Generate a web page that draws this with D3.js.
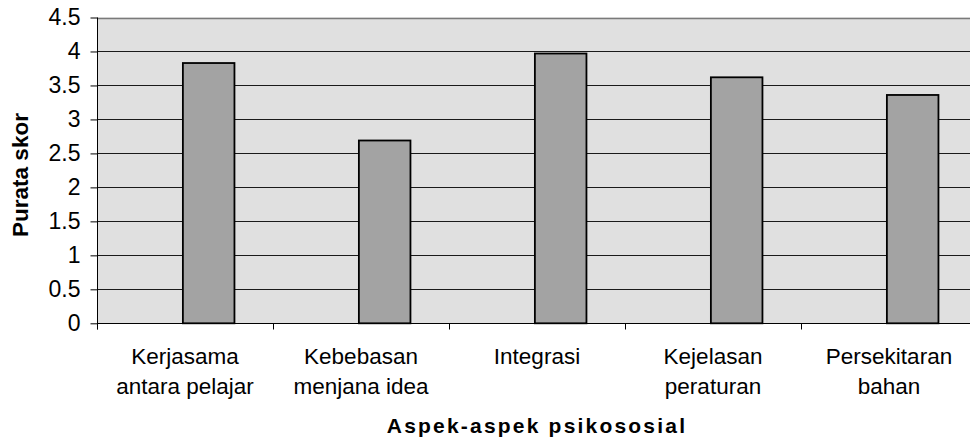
<!DOCTYPE html>
<html>
<head>
<meta charset="utf-8">
<script src="https://cdn.jsdelivr.net/npm/d3@7"></script>
<style>
  body { margin: 0; background: #fff; }
  svg { display: block; font-family: "Liberation Sans", Arial, sans-serif; }
</style>
</head>
<body>
<svg id="canvas" width="970" height="441"></svg>
<script>
// chart data
let categories = [
  ['Kerjasama', 'antara pelajar'],
  ['Kebebasan', 'menjana idea'],
  ['Integrasi'],
  ['Kejelasan', 'peraturan'],
  ['Persekitaran', 'bahan']
];
let scores = [3.83, 2.69, 3.97, 3.62, 3.36];
let yTicks = [0, 0.5, 1, 1.5, 2, 2.5, 3, 3.5, 4, 4.5];
let yTitle = 'Purata skor';
let xTitle = 'Aspek-aspek psikososial';

let canvas = d3.select('#canvas');

let plotLeft = 97, plotRight = 977, plotTop = 17.5, plotBottom = 323.3;

let x = d3.scaleBand()
  .domain(d3.range(categories.length))
  .range([plotLeft, plotRight])
  .padding(0);

let y = d3.scaleLinear()
  .domain([0, 4.5])
  .range([plotBottom, plotTop]);

// plot background
canvas.append('rect')
  .attr('x', plotLeft)
  .attr('y', plotTop)
  .attr('width', plotRight - plotLeft)
  .attr('height', plotBottom - plotTop)
  .attr('fill', '#e0e0e0');

// gridlines
canvas.append('g')
  .selectAll('line')
  .data(yTicks.filter((d) => d > 0))
  .enter()
  .append('line')
  .attr('x1', plotLeft)
  .attr('x2', plotRight)
  .attr('y1', (d) => Math.round(y(d)) + 0.5)
  .attr('y2', (d) => Math.round(y(d)) + 0.5)
  .attr('stroke', (d) => (d === 4.5 ? '#7a7a7a' : '#1a1a1a'))
  .attr('stroke-width', (d) => (d === 4.5 ? 1.5 : 1.2));

// bars (sit off-centre inside each category, like the source)
let bw = x.bandwidth();
canvas.append('g')
  .selectAll('rect')
  .data(scores)
  .enter()
  .append('rect')
  .attr('x', (d, i) => x(i) + bw * 0.488)
  .attr('y', (d) => y(d))
  .attr('width', bw * 0.293)
  .attr('height', (d) => y(0) - y(d))
  .attr('fill', '#a3a3a3')
  .attr('stroke', '#000')
  .attr('stroke-width', 1.8);

// y axis
let yAxis = d3.axisLeft(y)
  .tickValues(yTicks)
  .tickFormat((d) => String(d))
  .tickSize(7)
  .tickPadding(10);

let gy = canvas.append('g')
  .attr('transform', 'translate(' + (plotLeft + 0.5) + ',0)')
  .call(yAxis);
gy.select('.domain').attr('stroke', '#000').attr('d', 'M0,' + (plotBottom + 6) + 'V' + plotTop);
gy.selectAll('.tick line').attr('stroke', '#000');
gy.selectAll('.tick text')
  .attr('font-size', 23)
  .attr('fill', '#000')
  .attr('font-family', '"Liberation Sans", Arial, sans-serif');

// x axis with ticks at category boundaries
let gx = canvas.append('g')
  .attr('transform', 'translate(0,' + (Math.round(plotBottom) + 0.5) + ')');
gx.append('line')
  .attr('x1', plotLeft)
  .attr('x2', plotRight)
  .attr('stroke', '#000');
gx.selectAll('.bound')
  .data(d3.range(categories.length))
  .enter()
  .append('line')
  .attr('class', 'bound')
  .attr('x1', (d) => Math.round(x(d)) + 0.5)
  .attr('x2', (d) => Math.round(x(d)) + 0.5)
  .attr('y1', 0)
  .attr('y2', 6)
  .attr('stroke', '#000');

// category labels
let labels = canvas.append('g')
  .selectAll('text')
  .data(categories)
  .enter()
  .append('text')
  .attr('text-anchor', 'middle')
  .attr('font-size', 22.5)
  .attr('fill', '#000')
  .attr('transform', (d, i) => 'translate(' + (x(i) + bw / 2) + ',364)');
labels.selectAll('tspan')
  .data((d) => d)
  .enter()
  .append('tspan')
  .attr('x', 0)
  .attr('y', (d, j) => j * 30)
  .text((d) => d);

// axis titles
canvas.append('text')
  .attr('transform', 'translate(28,175) rotate(-90)')
  .attr('text-anchor', 'middle')
  .attr('font-size', 22.5)
  .attr('font-weight', 'bold')
  .text(yTitle);

canvas.append('text')
  .attr('x', (plotLeft + plotRight) / 2)
  .attr('y', 433)
  .attr('text-anchor', 'middle')
  .attr('font-size', 21)
  .attr('font-weight', 'bold')
  .attr('letter-spacing', 2.2)
  .text(xTitle);
</script>
</body>
</html>
